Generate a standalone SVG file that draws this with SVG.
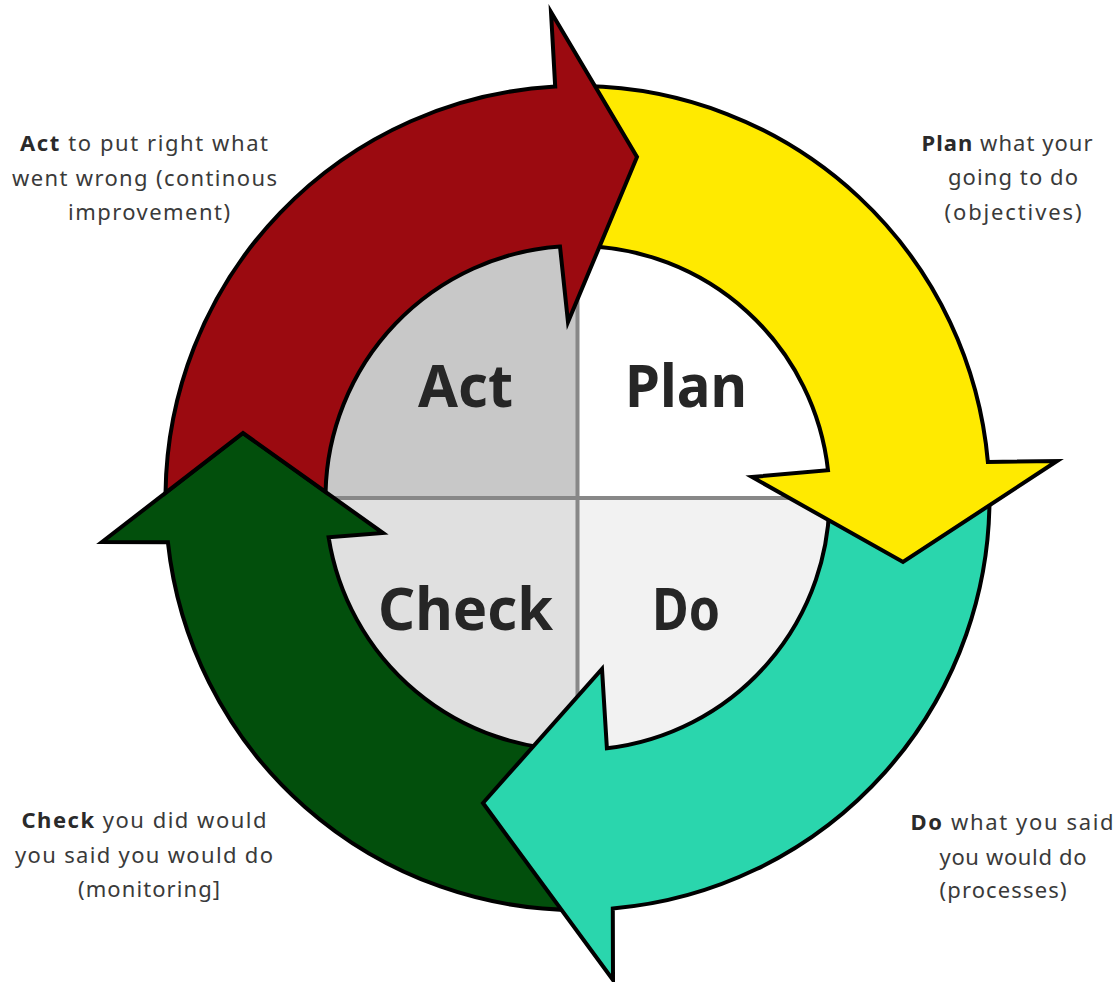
<svg xmlns="http://www.w3.org/2000/svg" width="1119" height="982" viewBox="0 0 1119 982">
<style>
.arrow{stroke:#000;stroke-width:4;stroke-linejoin:miter;stroke-miterlimit:10}
.big{font-family:"Noto Sans","DejaVu Sans",sans-serif;font-weight:bold;font-size:60px;fill:#262626;text-anchor:middle}
.note{font-family:"Noto Sans","DejaVu Sans",sans-serif;font-size:22px;fill:#3a3a3a;text-anchor:middle}
.note .b{font-weight:bold;fill:#2a2a2a}
.div{stroke:#888;stroke-width:4}
</style>
<rect width="1119" height="982" fill="#fff"/>
<g id="node-act">
<path d="M577.5 498 L323.5 498 A254 254 0 0 1 577.5 244 Z" fill="#c8c8c8"/>
<text class="big" x="465.5" y="407" textLength="95" lengthAdjust="spacingAndGlyphs">Act</text>
</g>
<g id="node-plan">
<path d="M577.5 498 L577.5 244 A254 254 0 0 1 831.5 498 Z" fill="#ffffff"/>
<text class="big" x="686" y="407" textLength="122" lengthAdjust="spacingAndGlyphs">Plan</text>
</g>
<g id="node-do">
<path d="M577.5 498 L831.5 498 A254 254 0 0 1 577.5 752 Z" fill="#f2f2f2"/>
<text class="big" x="686" y="630" textLength="68" lengthAdjust="spacingAndGlyphs">Do</text>
</g>
<g id="node-check">
<path d="M577.5 498 L577.5 752 A254 254 0 0 1 323.5 498 Z" fill="#e0e0e0"/>
<text class="big" x="465.5" y="630" textLength="175" lengthAdjust="spacingAndGlyphs">Check</text>
</g>
<g id="dividers">
<line class="div" x1="577.5" y1="244" x2="577.5" y2="752"/>
<line class="div" x1="323.5" y1="498" x2="831.5" y2="498"/>
</g>
<g id="connectors">
<path id="arrow-check-act" class="arrow" fill="#024f0c" d="M584.69 909.94 A412 412 0 0 1 167.9 542.2 L102 542 L243 433 L383 533 L328.6 537.25 A252 252 0 0 0 581.9 749.96 Z"/>
<path id="arrow-do-check" class="arrow" fill="#2ad6ad" d="M989.36 487.21 A412 412 0 0 1 612.8 908.5 L613 980 L483 803 L602 669 L606.9 748.3 A252 252 0 0 0 829.41 491.4 Z"/>
<path id="arrow-plan-do" class="arrow" fill="#ffea00" d="M584.69 86.06 A412 412 0 0 1 987.9 462 L1057 461 L903 562 L752 477 L828 470.2 A252 252 0 0 0 581.9 246.04 Z"/>
<path id="arrow-act-plan" class="arrow" fill="#9b0a10" d="M165.53 492.88 A412 412 0 0 1 555.2 86.6 L551 12 L637 157 L568 322 L560 246.6 A252 252 0 0 0 325.57 491.98 L243 433 Z"/>
</g>
<g id="note-act">
<text class="note" x="144" y="151" textLength="248"><tspan class="b">Act</tspan> to put right what</text>
<text class="note" x="144.5" y="186" textLength="265">went wrong (continous</text>
<text class="note" x="149" y="220" textLength="162">improvement)</text>
</g>
<g id="note-plan">
<text class="note" x="1007" y="151" textLength="171"><tspan class="b">Plan</tspan> what your</text>
<text class="note" x="1013" y="185" textLength="130">going to do</text>
<text class="note" x="1013" y="220" textLength="137">(objectives)</text>
</g>
<g id="note-check">
<text class="note" x="144" y="828" textLength="245"><tspan class="b">Check</tspan> you did would</text>
<text class="note" x="144" y="863" textLength="258">you said you would do</text>
<text class="note" x="149" y="897" textLength="142">(monitoring]</text>
</g>
<g id="note-do">
<text class="note" x="1012" y="830" textLength="203"><tspan class="b">Do</tspan> what you said</text>
<text class="note" x="1013" y="865" textLength="147">you would do</text>
<text class="note" x="1003" y="898" textLength="127">(processes)</text>
</g>
</svg>
